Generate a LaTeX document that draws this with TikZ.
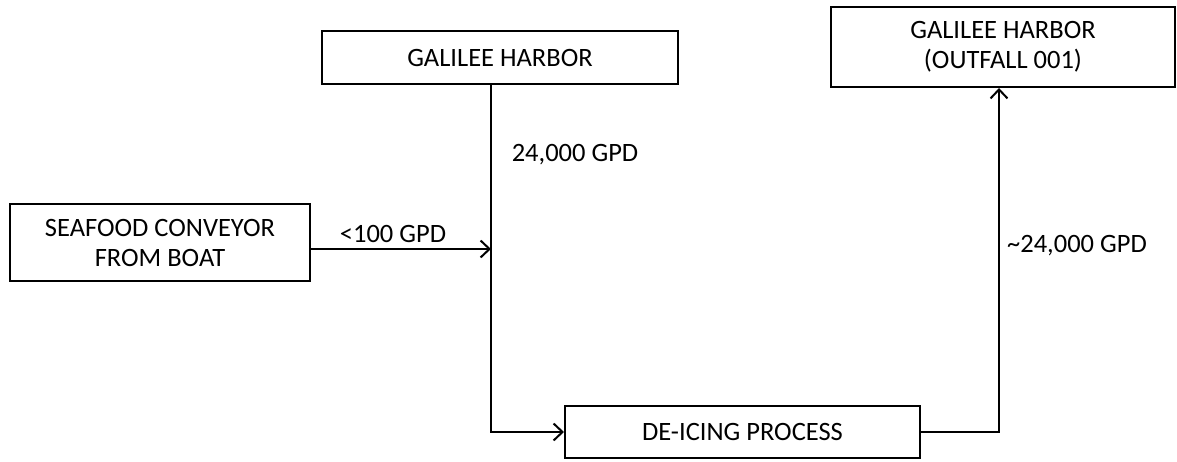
\documentclass[tikz,border=0pt]{standalone}
\usepackage{fontspec}
\setmainfont{Carlito}
\usetikzlibrary{arrows.meta}
\begin{document}
\begin{tikzpicture}[x=1pt,y=-1pt,
  txt/.style={font=\fontsize{26.5}{30}\selectfont},
  box/.style={draw, line width=2pt, inner sep=0pt, align=center, txt},
  lbl/.style={txt, inner sep=0pt},
  flow/.style={line width=2pt, -{Straight Barb[length=9pt,width=17pt,line width=2pt]}}]
\useasboundingbox (0,0) rectangle (1177,462);
\node[box, minimum width=300pt, minimum height=77pt] (sea) at (160,242.5) {SEAFOOD CONVEYOR\\FROM BOAT};
\node[box, minimum width=356pt, minimum height=53pt] (harbor) at (500,57.5) {GALILEE HARBOR};
\node[box, minimum width=344pt, minimum height=80pt] (outfall) at (1003,47) {GALILEE HARBOR\\(OUTFALL 001)};
\node[box, minimum width=355pt, minimum height=52pt] (deice) at (742.5,432) {DE-ICING PROCESS};
\coordinate (hj) at (491,249);
\draw[flow] ([yshift=-6.5pt]sea.east) -- (hj);
\draw[flow] ([xshift=-9pt]harbor.south) |- (deice.west);
\draw[flow] (deice.east) -| ([xshift=-4pt]outfall.south);
\node[lbl] (l1) at (575,155) {24,000 GPD};
\node[lbl] (l2) at (393,234) {<100 GPD};
\node[lbl] (l3) at (1077,246) {\textasciitilde24,000 GPD};
\end{tikzpicture}
\end{document}
